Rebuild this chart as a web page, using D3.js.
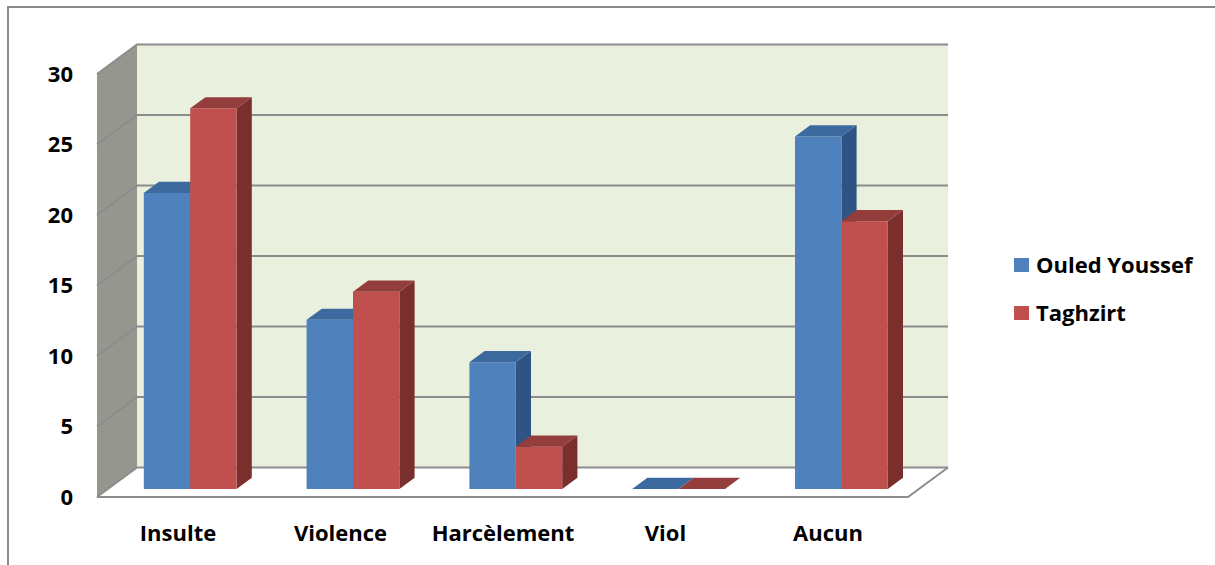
<!DOCTYPE html>
<html>
<head>
<meta charset="utf-8">
<script src="https://cdn.jsdelivr.net/npm/d3@7"></script>
<style>
  body { margin: 0; background: #fff; }
  svg text { font-family: "Open Sans", Lato, sans-serif; font-weight: bold; fill: #000; }
</style>
</head>
<body>
<div id="chart"></div>
<script>
const categories = ['Insulte', 'Violence', 'Harcèlement', 'Viol', 'Aucun'];
const seriesNames = ['Ouled Youssef', 'Taghzirt'];
const ouledYoussef = [21, 12, 9, 0, 25];
const taghzirt = [27, 14, 3, 0, 19];
const yTicks = [0, 5, 10, 15, 20, 25, 30];

const width = 1215;
const height = 565;

// depth of the 3d box (front plane -> back wall)
const DX = 40, DY = -29.5;
const barFront = 0.27, barBack = 0.65;

const colors = [
  { front: '#4F81BD', top: '#3D6A9E', side: '#2F5383' },
  { front: '#C0504D', top: '#933E3C', side: '#7B2F2D' }
];

const svg = d3.select('#chart')
  .append('svg')
  .attr('width', width)
  .attr('height', height);

// outer frame
svg.append('rect')
  .attr('x', 8).attr('y', 7)
  .attr('width', width + 20).attr('height', height + 20)
  .attr('fill', '#fff')
  .attr('stroke', '#8a8a8a')
  .attr('stroke-width', 2);

const x0 = 97, x1 = 908;
const xScale = d3.scaleBand()
  .domain(categories)
  .range([98, 912])
  .paddingInner(0.43)
  .paddingOuter(0.215);
const xSub = d3.scaleBand()
  .domain(seriesNames)
  .range([0, xScale.bandwidth()]);
const yScale = d3.scaleLinear()
  .domain([0, 30])
  .range([497, 74]);

// project a front-plane point to a given depth
const P = (x, v, d) => [x + DX * d, yScale(v) + DY * d];
const poly = pts => pts.map(p => p.join(',')).join(' ');

// walls
svg.append('polygon')
  .attr('points', poly([P(x0, 30, 1), P(x1, 30, 1), P(x1, 0, 1), P(x0, 0, 1)]))
  .attr('fill', '#EAF0DE');
svg.append('polygon')
  .attr('points', poly([P(x0, 30, 0), P(x0, 30, 1), P(x0, 0, 1), P(x0, 0, 0)]))
  .attr('fill', '#95978F');
svg.append('polygon')
  .attr('points', poly([P(x0, 0, 0), P(x0, 0, 1), P(x1, 0, 1), P(x1, 0, 0)]))
  .attr('fill', '#fff');

// gridlines
const grid = svg.append('g').attr('class', 'gridline');
yTicks.forEach(v => {
  grid.append('polyline')
    .attr('points', poly([P(x0, v, 0), P(x0, v, 1), P(x1, v, 1)]))
    .attr('fill', 'none')
    .attr('stroke', '#8c8c8c')
    .attr('stroke-width', 2);
});
// floor edges
svg.append('polyline')
  .attr('points', poly([P(x0, 0, 0), P(x1, 0, 0), P(x1, 0, 1)]))
  .attr('fill', 'none')
  .attr('stroke', '#8c8c8c')
  .attr('stroke-width', 2);

// bars
const rows = [];
categories.forEach((c, i) => {
  [ouledYoussef, taghzirt].forEach((vals, s) => {
    rows.push({ cat: c, series: seriesNames[s], s, value: vals[i] });
  });
});

const bars = svg.selectAll('.bar')
  .data(rows)
  .enter()
  .append('g')
  .classed('bar', true);

bars.each(function (d) {
  const g = d3.select(this);
  const bx0 = xScale(d.cat) + xSub(d.series);
  const bx1 = bx0 + xSub.bandwidth();
  const col = colors[d.s];
  if (d.value > 0) {
    g.append('polygon')
      .attr('points', poly([P(bx1, d.value, barFront), P(bx1, d.value, barBack), P(bx1, 0, barBack), P(bx1, 0, barFront)]))
      .attr('fill', col.side);
    g.append('polygon')
      .attr('points', poly([P(bx0, d.value, barFront), P(bx1, d.value, barFront), P(bx1, 0, barFront), P(bx0, 0, barFront)]))
      .attr('fill', col.front);
  }
  g.append('polygon')
    .attr('points', poly([P(bx0, d.value, barFront), P(bx1, d.value, barFront), P(bx1, d.value, barBack), P(bx0, d.value, barBack)]))
    .attr('fill', col.top);
});

// y axis labels
svg.selectAll('.y-label')
  .data(yTicks)
  .enter()
  .append('text')
  .classed('y-label', true)
  .attr('x', 73)
  .attr('y', d => yScale(d))
  .attr('dy', '0.36em')
  .style('font-size', '22px')
  .style('text-anchor', 'end')
  .text(d => d);

// x axis labels
svg.selectAll('.x-label')
  .data(categories)
  .enter()
  .append('text')
  .classed('x-label', true)
  .attr('x', (d, i) => 178 + i * 162.5)
  .attr('y', 533)
  .attr('dy', '0.36em')
  .style('font-size', '22px')
  .style('text-anchor', 'middle')
  .text(d => d);

// legend
const legend = svg.append('g').attr('transform', 'translate(1014,258)');
seriesNames.forEach((name, i) => {
  legend.append('rect')
    .attr('x', 0).attr('y', i * 48)
    .attr('width', 15).attr('height', 14)
    .attr('fill', colors[i].front);
  legend.append('text')
    .attr('x', 22).attr('y', i * 48 + 7)
    .attr('dy', '0.36em')
    .style('font-size', '22px')
    .text(name);
});
</script>
</body>
</html>
